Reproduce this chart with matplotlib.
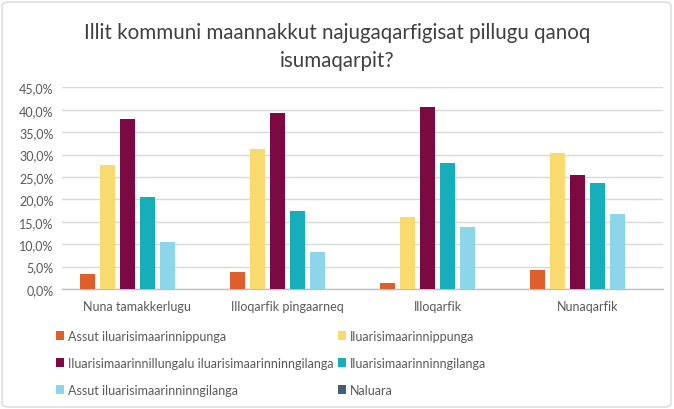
import matplotlib
matplotlib.use("Agg")
import matplotlib.pyplot as plt
import numpy as np
from matplotlib.patches import FancyBboxPatch
from matplotlib.ticker import FuncFormatter, MultipleLocator

plt.rcParams['font.family'] = ['Lato', 'DejaVu Sans']

title = "Illit kommuni maannakkut najugaqarfigisat pillugu qanoq\nisumaqarpit?"
categories = ["Nuna tamakkerlugu", "Illoqarfik pingaarneq", "Illoqarfik", "Nunaqarfik"]
series_names = [
    "Assut iluarisimaarinnippunga",
    "Iluarisimaarinnippunga",
    "Iluarisimaarinnillungalu iluarisimaarinninngilanga",
    "Iluarisimaarinninngilanga",
    "Assut iluarisimaarinninngilanga",
    "Naluara",
]
assut_iluarisimaarinnippunga = [3.3, 3.9, 1.3, 4.3]
iluarisimaarinnippunga = [27.7, 31.2, 16.0, 30.3]
illungalu = [37.9, 39.3, 40.5, 25.4]
iluarisimaarinninngilanga = [20.5, 17.3, 28.1, 23.6]
assut_iluarisimaarinninngilanga = [10.4, 8.2, 13.8, 16.7]
naluara = [0.0, 0.0, 0.0, 0.0]
series_values = [assut_iluarisimaarinnippunga, iluarisimaarinnippunga, illungalu,
                 iluarisimaarinninngilanga, assut_iluarisimaarinninngilanga, naluara]
colors = ["#DE5F2B", "#F8DA6E", "#7B0A42", "#16AEBB", "#8DD5E8", "#3F5F7A"]

fig = plt.figure(figsize=(6.74, 4.10), dpi=100)
ax = fig.add_axes([62/674, 1-290/410, (663-62)/674, (290-88.3)/410])

x = np.arange(len(categories))
n = len(series_names)
pitch = 0.1333
width = 0.1
handles = []
for i, (name, vals, c) in enumerate(zip(series_names, series_values, colors)):
    offs = (i - (n-1)/2) * pitch
    b = ax.bar(x + offs, np.array(vals)/100, width=width, color=c, label=name, zorder=3)
    handles.append(b)

ax.set_xlim(-0.5, len(categories)-0.5)
ax.set_ylim(0, 0.45)
ax.yaxis.set_major_locator(MultipleLocator(0.05))
ax.yaxis.set_major_formatter(FuncFormatter(lambda v, p: f"{v*100:.1f}%".replace('.', ',')))
ax.set_xticks(x)
ax.set_xticklabels(categories)
ax.tick_params(axis='both', length=0, labelsize=9, colors='#595959')
ax.tick_params(axis='x', pad=8)
ax.tick_params(axis='y', pad=6)
for s in ['left', 'right', 'top']:
    ax.spines[s].set_visible(False)
ax.spines['bottom'].set_color('#BFBFBF')
ax.spines['bottom'].set_linewidth(1.0)
ax.grid(axis='y', color='#D9D9D9', linewidth=1.0, zorder=0)
ax.set_axisbelow(True)

fig.text(0.5, 1-47/410, title, ha='center', va='center', fontsize=14.8,
         color='#404040', linespacing=1.45)

order = [0, 2, 4, 1, 3, 5]
leg = fig.legend([handles[i] for i in order], [series_names[i] for i in order],
                 loc='upper left', bbox_to_anchor=(56/674, 1-331/410), ncol=2,
                 frameon=False, fontsize=9, handlelength=0.65, handleheight=0.65,
                 handletextpad=0.3, labelspacing=1.2, columnspacing=0.35,
                 borderaxespad=0, borderpad=0)
for t in leg.get_texts():
    t.set_color('#595959')

border = FancyBboxPatch((2/674, 2/410), 1-5/674, 1-5/410, boxstyle="round,pad=0,rounding_size=0.01",
                        transform=fig.transFigure, fill=False, edgecolor='#D9D9D9', linewidth=1.0)
fig.patches.append(border)

fig.savefig("out.png", dpi=100)
